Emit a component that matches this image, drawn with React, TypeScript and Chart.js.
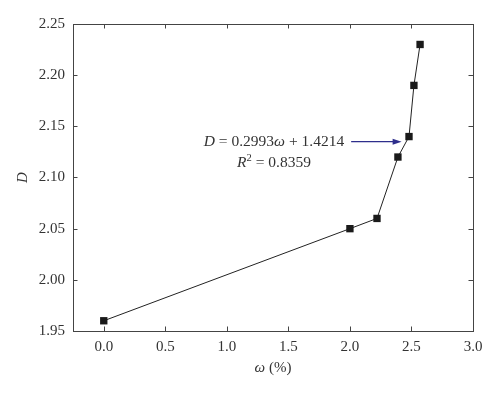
import React, { useEffect, useRef } from "react";
import { Chart, registerables } from "chart.js";

Chart.register(...registerables);

const omegaValues = [0.0, 2.0, 2.22, 2.39, 2.48, 2.52, 2.57];
const dValues = [1.96, 2.05, 2.06, 2.12, 2.14, 2.19, 2.23];
const xTicks = [0.0, 0.5, 1.0, 1.5, 2.0, 2.5, 3.0];
const yTicks = [1.95, 2.0, 2.05, 2.1, 2.15, 2.2, 2.25];
const fitEquation = { slope: "0.2993", intercept: "1.4214", r2: "0.8359" };
const arrowFrom = { x: 2.01, y: 2.135 };
const arrowTo = { x: 2.42, y: 2.135 };

const FONT = "'Liberation Serif', 'DejaVu Serif', serif";
const INK = "#333333";

type Seg = { t: string; italic?: boolean; sup?: boolean };

function segWidth(ctx: CanvasRenderingContext2D, segs: Seg[], size: number) {
  let w = 0;
  for (const s of segs) {
    ctx.font = `${s.italic ? "italic " : ""}${s.sup ? size * 0.68 : size}px ${FONT}`;
    w += ctx.measureText(s.t).width;
  }
  return w;
}

function drawSegs(ctx: CanvasRenderingContext2D, segs: Seg[], x: number, y: number, size: number) {
  let cx = x;
  ctx.textAlign = "left";
  ctx.textBaseline = "middle";
  for (const s of segs) {
    const fs = s.sup ? size * 0.68 : size;
    ctx.font = `${s.italic ? "italic " : ""}${fs}px ${FONT}`;
    ctx.fillText(s.t, cx, s.sup ? y - size * 0.35 : y);
    cx += ctx.measureText(s.t).width;
  }
}

const framePlugin = {
  id: "frame",
  afterDraw(chart: any) {
    const { ctx, chartArea: a, scales } = chart;
    const xs = scales.x;
    const ys = scales.y;
    ctx.save();
    ctx.strokeStyle = "#444444";
    ctx.lineWidth = 1;
    ctx.strokeRect(Math.round(a.left) + 0.5, Math.round(a.top) + 0.5, Math.round(a.right - a.left), Math.round(a.bottom - a.top));
    const tl = 4.5;
    ctx.beginPath();
    for (const v of xTicks) {
      const px = Math.round(xs.getPixelForValue(v)) + 0.5;
      ctx.moveTo(px, a.bottom);
      ctx.lineTo(px, a.bottom - tl);
      ctx.moveTo(px, a.top);
      ctx.lineTo(px, a.top + tl);
    }
    for (const v of yTicks) {
      const py = Math.round(ys.getPixelForValue(v)) + 0.5;
      ctx.moveTo(a.left, py);
      ctx.lineTo(a.left + tl, py);
      ctx.moveTo(a.right, py);
      ctx.lineTo(a.right - tl, py);
    }
    ctx.stroke();

    // axis titles
    ctx.fillStyle = INK;
    const size = 15;
    const xt: Seg[] = [{ t: "ω", italic: true }, { t: " (%)" }];
    const xw = segWidth(ctx, xt, size);
    drawSegs(ctx, xt, (a.left + a.right) / 2 - xw / 2, 368, size);
    ctx.save();
    ctx.translate(23, (a.top + a.bottom) / 2);
    ctx.rotate(-Math.PI / 2);
    ctx.font = `italic ${size}px ${FONT}`;
    ctx.textAlign = "center";
    ctx.textBaseline = "middle";
    ctx.fillText("D", 0, 0);
    ctx.restore();

    // annotation
    const ax0 = xs.getPixelForValue(arrowFrom.x);
    const ax1 = xs.getPixelForValue(arrowTo.x);
    const ay = ys.getPixelForValue(arrowFrom.y);
    ctx.strokeStyle = "#2e2e8c";
    ctx.fillStyle = "#2e2e8c";
    ctx.lineWidth = 1.2;
    ctx.beginPath();
    ctx.moveTo(ax0, ay);
    ctx.lineTo(ax1 - 6, ay);
    ctx.stroke();
    ctx.beginPath();
    ctx.moveTo(ax1, ay);
    ctx.lineTo(ax1 - 9, ay - 3);
    ctx.lineTo(ax1 - 9, ay + 3);
    ctx.closePath();
    ctx.fill();

    ctx.fillStyle = INK;
    const esize = 15.5;
    const eq: Seg[] = [
      { t: "D", italic: true },
      { t: ` = ${fitEquation.slope}` },
      { t: "ω", italic: true },
      { t: ` + ${fitEquation.intercept}` },
    ];
    const ew = segWidth(ctx, eq, esize);
    const right = ax0 - 7;
    const center = right - ew / 2;
    drawSegs(ctx, eq, right - ew, ay, esize);
    const r2: Seg[] = [{ t: "R", italic: true }, { t: "2", sup: true }, { t: ` = ${fitEquation.r2}` }];
    const rw = segWidth(ctx, r2, esize);
    drawSegs(ctx, r2, center - rw / 2, ay + 21.5, esize);
    ctx.restore();
  },
};

export default function App() {
  const ref = useRef<HTMLCanvasElement | null>(null);
  useEffect(() => {
    if (!ref.current) return;
    const chart = new Chart(ref.current, {
      type: "scatter",
      data: {
        datasets: [
          {
            data: omegaValues.map((x, i) => ({ x, y: dValues[i] })),
            showLine: true,
            borderColor: "#222222",
            borderWidth: 1,
            pointStyle: "rect",
            pointRadius: 5.2,
            pointBackgroundColor: "#1a1a1a",
            pointBorderColor: "#1a1a1a",
            pointBorderWidth: 0,
          },
        ],
      },
      options: {
        animation: false,
        responsive: true,
        maintainAspectRatio: false,
        layout: { padding: { left: 0, right: 27, top: 24, bottom: 0 } },
        plugins: { legend: { display: false }, tooltip: { enabled: false } },
        scales: {
          x: {
            type: "linear",
            min: -0.25,
            max: 3.0,
            afterBuildTicks: (s: any) => {
              s.ticks = xTicks.map((v) => ({ value: v }));
            },
            afterFit: (s: any) => {
              s.height = 62;
            },
            grid: { display: false, drawTicks: false },
            border: { display: false },
            ticks: {
              padding: 7,
              color: INK,
              font: { family: FONT, size: 15 },
              callback: (v: any) => Number(v).toFixed(1),
            },
          },
          y: {
            type: "linear",
            min: 1.95,
            max: 2.25,
            afterBuildTicks: (s: any) => {
              s.ticks = yTicks.map((v) => ({ value: v }));
            },
            afterFit: (s: any) => {
              s.width = 73;
            },
            grid: { display: false, drawTicks: false },
            border: { display: false },
            ticks: {
              padding: 8,
              color: INK,
              font: { family: FONT, size: 15 },
              callback: (v: any) => Number(v).toFixed(2),
            },
          },
        },
      },
      plugins: [framePlugin],
    } as any);
    return () => chart.destroy();
  }, []);
  return (
    <div style={{ position: "fixed", left: 0, top: 0, width: 500, height: 393, background: "#fff" }}>
      <canvas ref={ref} />
    </div>
  );
}
